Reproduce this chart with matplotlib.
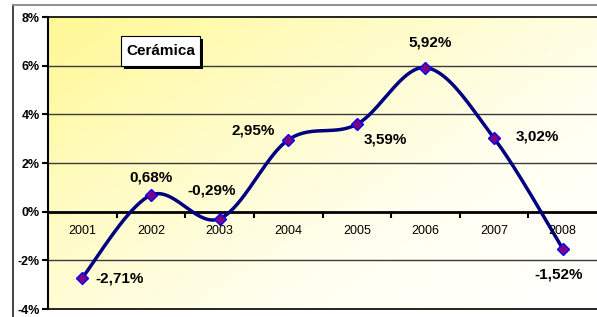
import numpy as np
import matplotlib
matplotlib.use("Agg")
import matplotlib.pyplot as plt
from matplotlib.lines import Line2D
from matplotlib.patches import Rectangle
from matplotlib.colors import LinearSegmentedColormap

plt.rcParams["font.family"] = ["Liberation Sans", "DejaVu Sans"]

# data
years = ["2001", "2002", "2003", "2004", "2005", "2006", "2007", "2008"]
values = [-2.71, 0.68, -0.29, 2.95, 3.59, 5.92, 3.02, -1.52]
y_ticks = [-4, -2, 0, 2, 4, 6, 8]
title = "Cerámica"

# label offsets in pixels (dx, dy, ha)
label_offsets = [(13, -1, "left"), (0, 18, "center"), (-8, 28, "center"),
                 (-35, 9, "center"), (29, -15, "center"), (5, 25, "center"),
                 (43, 2, "center"), (-4, -26, "center")]

W, H = 597, 317
fig = plt.figure(figsize=(W / 100, H / 100), dpi=100)
ax = fig.add_axes([48 / W, 1 - 309 / H, (597 - 48) / W, (309 - 17) / H])

x = np.arange(1, len(years) + 1)
y = np.array(values)

# gradient background (yellow top-left -> white bottom-right)
gx, gy = np.meshgrid(np.linspace(0, 1, 200), np.linspace(0, 1, 200))
grad = np.clip((gx * 0.55 + gy * 0.45), 0, 1)
cmap = LinearSegmentedColormap.from_list("bg", ["#FFF894", "#FFFCC6", "#FFFFF0", "#FFFFFF"])
ax.imshow(grad, extent=[0.5, 8.5, -4, 8], origin="upper", aspect="auto",
          cmap=cmap, zorder=0, interpolation="bilinear")

# gridlines
for t in y_ticks[1:-1]:
    if t == 0:
        continue
    ax.axhline(t, color="#3a3a3a", lw=1, zorder=1)
ax.axhline(0, color="black", lw=2, zorder=2)
ax.plot(x[:-1] + 0.5, np.zeros(len(x) - 1), linestyle="none",
        marker=matplotlib.markers.TICKDOWN, ms=4, mew=1.5, color="black", zorder=2)

# smoothed line (Excel-like catmull-rom bezier)
pts = np.column_stack([x, y]).astype(float)
curve = []
tt = np.linspace(0, 1, 40)
for i in range(len(pts) - 1):
    p0 = pts[i - 1] if i > 0 else pts[i]
    p1 = pts[i]
    p2 = pts[i + 1]
    p3 = pts[i + 2] if i + 2 < len(pts) else pts[i + 1]
    c1 = p1 + (p2 - p0) / 6
    c2 = p2 - (p3 - p1) / 6
    seg = ((1 - tt) ** 3)[:, None] * p1 + (3 * (1 - tt) ** 2 * tt)[:, None] * c1 \
        + (3 * (1 - tt) * tt ** 2)[:, None] * c2 + (tt ** 3)[:, None] * p2
    curve.append(seg)
curve = np.vstack(curve)
ax.plot(curve[:, 0], curve[:, 1], color="#000080", lw=2.5, zorder=3,
        solid_capstyle="round")
ax.plot(x, y, linestyle="none", marker="D", ms=6.5, mfc="#800080",
        mec="#0000FF", mew=1, zorder=4)

# data labels
for xi, yi, (dx, dy, ha) in zip(x, y, label_offsets):
    ax.annotate("{0:.2f}%".format(yi).replace(".", ","), (xi, yi),
                xytext=(dx, dy), textcoords="offset pixels", ha=ha, va="center",
                fontsize=11, fontweight="bold", zorder=5)

# category labels below zero line
for xi, lab in zip(x, years):
    ax.annotate(lab, (xi, 0), xytext=(0, -19), textcoords="offset pixels",
                ha="center", va="center", fontsize=9, zorder=5)

ax.set_xlim(0.5, 8.5)
ax.set_ylim(-4, 8)
ax.set_xticks([])
ax.set_yticks(y_ticks)
ax.set_yticklabels(["{0}%".format(t) for t in y_ticks], fontsize=9, fontweight="bold")
ax.tick_params(axis="y", direction="out", length=4, width=1.5, pad=2)
ax.spines["left"].set_linewidth(1.5)
ax.spines["top"].set_linewidth(1.2)
ax.spines["bottom"].set_linewidth(1.2)
ax.spines["right"].set_visible(False)

# outer chart frame
fig.add_artist(Line2D([13 / W, 13 / W], [0, 1 - 5 / H], color="#333333", lw=1.3))
fig.add_artist(Line2D([13 / W, 1], [1 - 5 / H, 1 - 5 / H], color="#888888", lw=1.3))

# title box with shadow
fig.add_artist(Rectangle((124 / W, 1 - 69 / H), 79 / W, 30 / H, transform=fig.transFigure,
                         facecolor="black", edgecolor="none", zorder=10))
fig.add_artist(Rectangle((121 / W, 1 - 66 / H), 79 / W, 30 / H, transform=fig.transFigure,
                         facecolor="white", edgecolor="black", lw=0.8, zorder=11))
fig.text(160.5 / W, 1 - 51 / H, title, ha="center", va="center", fontsize=11,
         fontweight="bold", zorder=12)

fig.savefig("out.png", dpi=100)
